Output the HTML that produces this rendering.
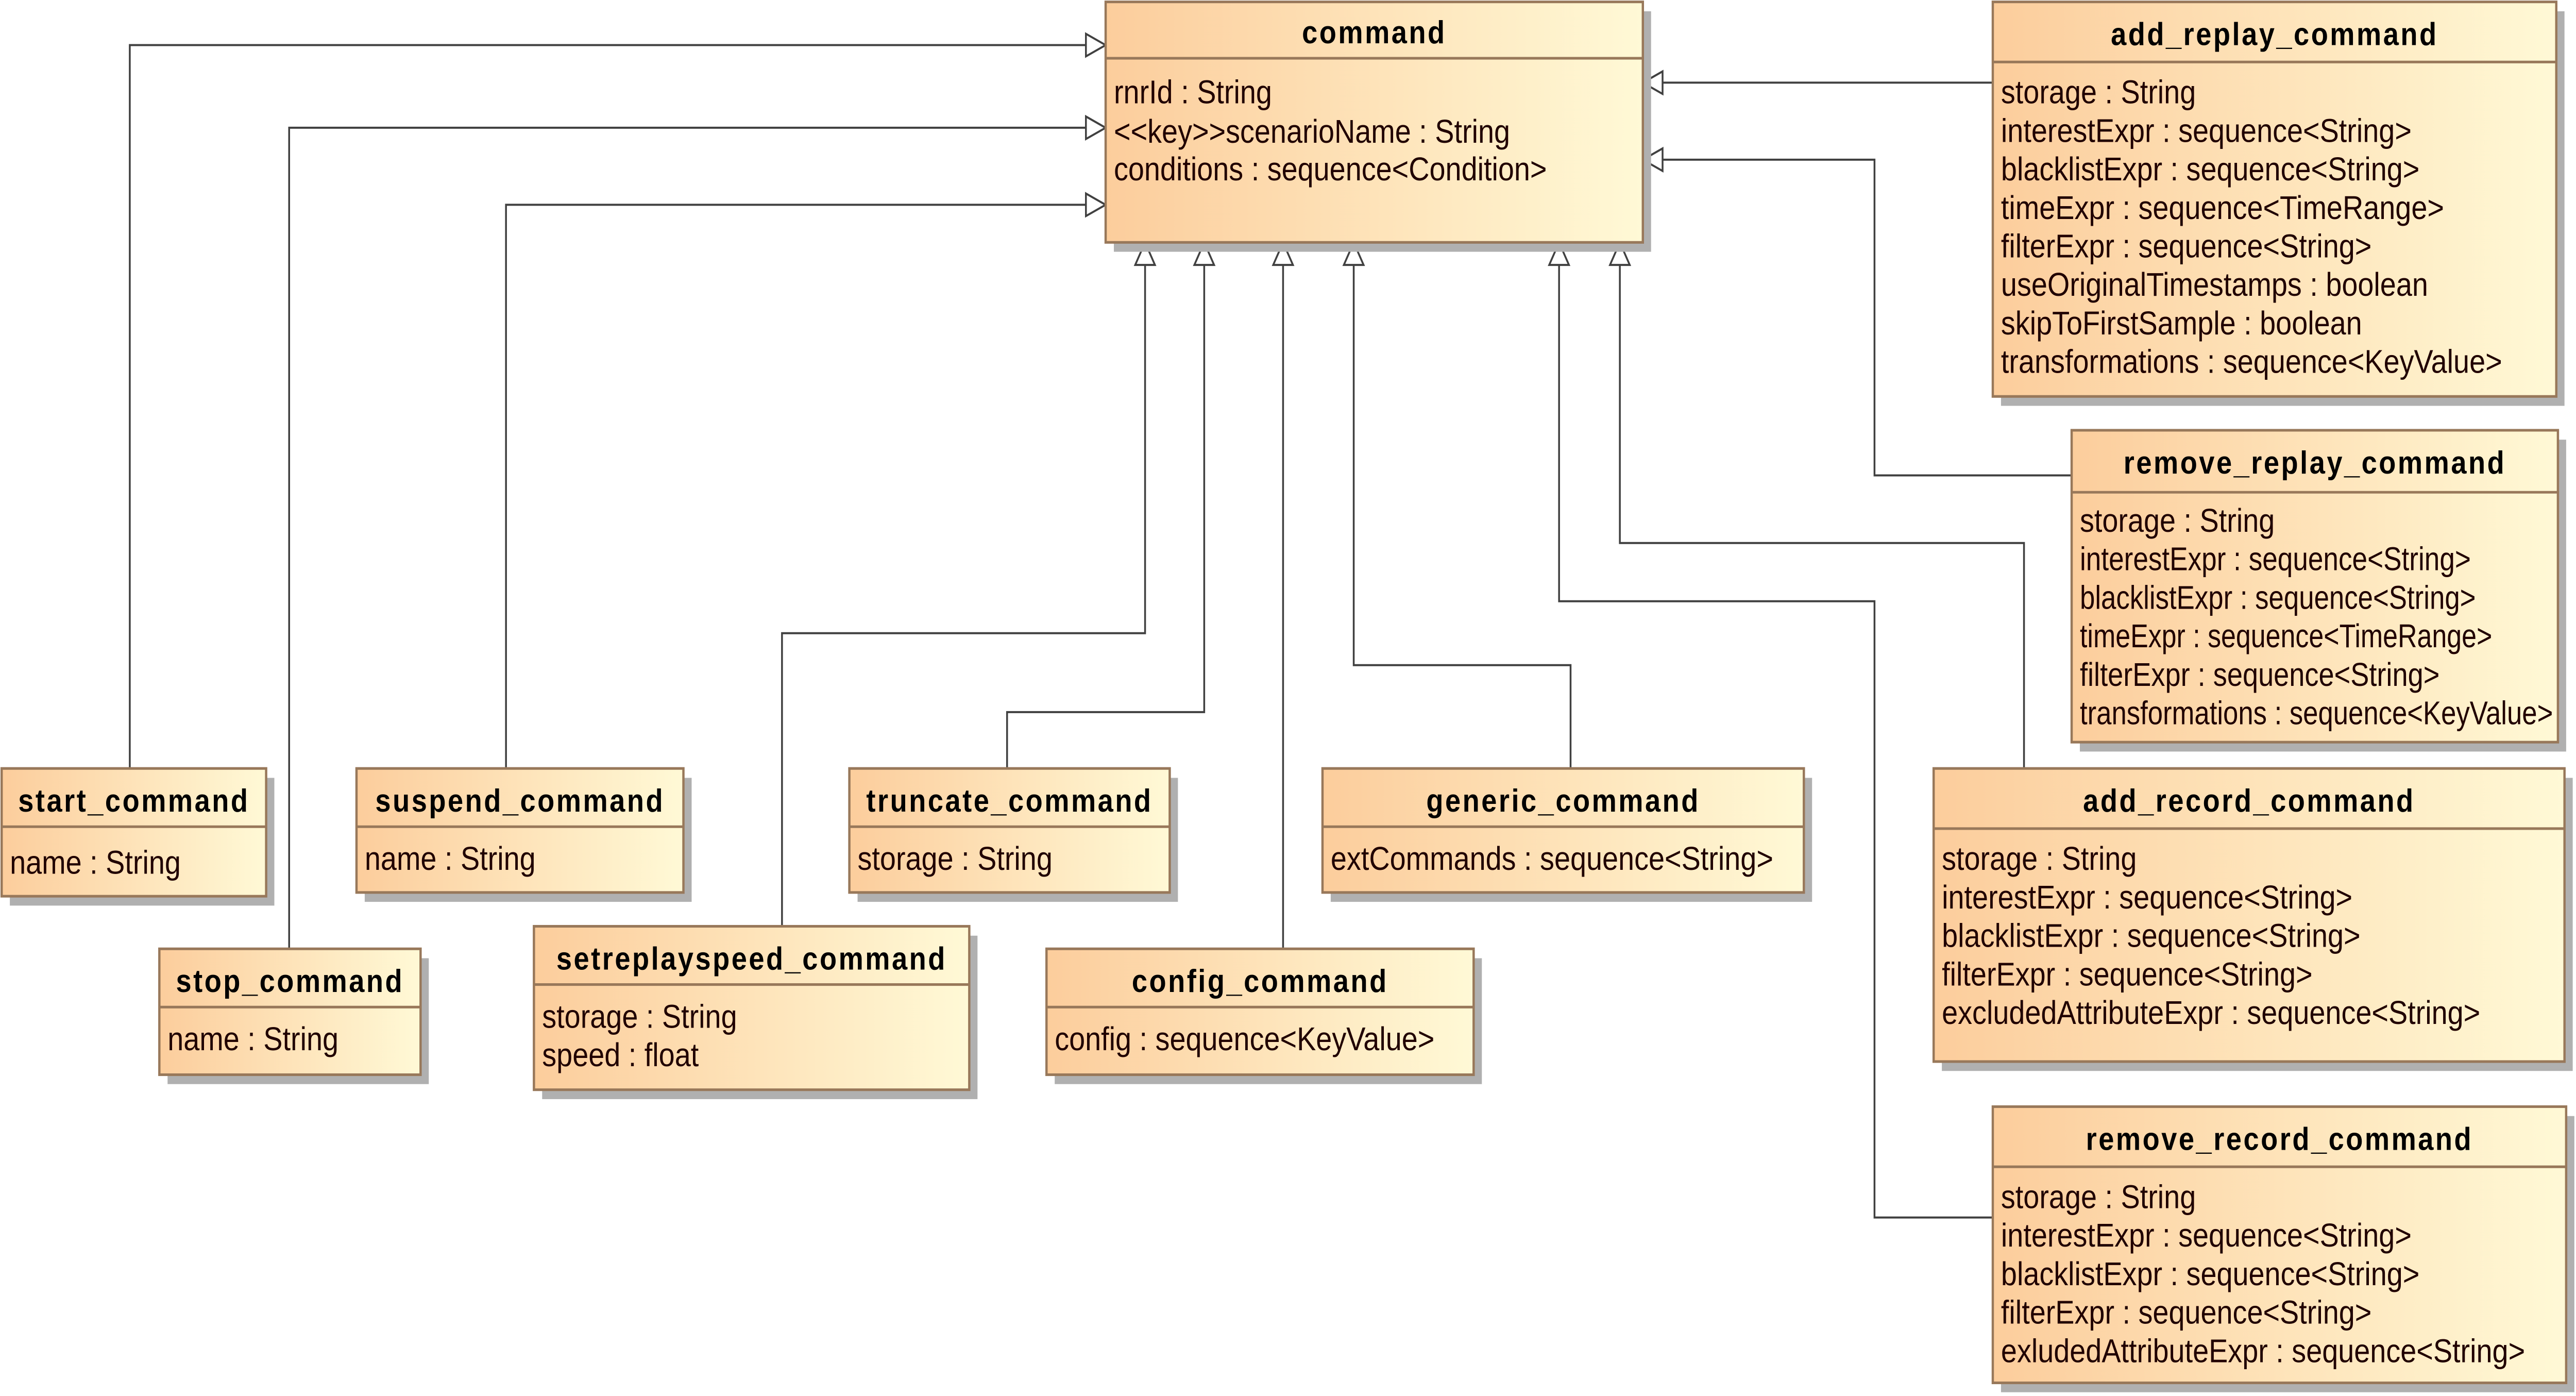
<!DOCTYPE html>
<html><head><meta charset="utf-8"><style>html,body{margin:0;padding:0;background:#fff;width:100%;height:100%;overflow:hidden;}svg{display:block;width:100vw;height:100vh;}</style></head>
<body>
<svg xmlns="http://www.w3.org/2000/svg" viewBox="0 0 1568 743" preserveAspectRatio="none">
<defs>
<linearGradient id="g" x1="0" y1="0" x2="1" y2="0">
<stop offset="0" stop-color="#fccd9c"/><stop offset="1" stop-color="#fff9d6"/>
</linearGradient>
</defs>
<style>
.b{fill:url(#g);stroke:#98785a;stroke-width:1.4}
.s{fill:#b0b0b0}
.d{stroke:#98785a;stroke-width:1.4}
.t{font-family:"Liberation Sans",sans-serif;font-weight:bold;font-size:17px;letter-spacing:1.1px;fill:#000;text-anchor:middle}
.a{font-family:"Liberation Sans",sans-serif;font-size:17.5px;fill:#200000}
.l{fill:none;stroke:#404040;stroke-width:1.1}
.h{fill:#fff;stroke:#404040;stroke-width:1.1}
</style>

<g>
<polyline class="l" points="79,409 79,24 661,24"/>
<polyline class="l" points="176,505 176,68 661,68"/>
<polyline class="l" points="308,409 308,109 661,109"/>
<polyline class="l" points="476,493 476,337 697,337 697,141"/>
<polyline class="l" points="613,409 613,379 733,379 733,141"/>
<polyline class="l" points="781,505 781,141"/>
<polyline class="l" points="956,409 956,354 824,354 824,141"/>
<polyline class="l" points="1232,409 1232,289 986,289 986,141"/>
<polyline class="l" points="1213,648 1141,648 1141,320 949,320 949,141"/>
<polyline class="l" points="1213,44 1012,44"/>
<polyline class="l" points="1261,253 1141,253 1141,85 1012,85"/>
<polygon class="h" points="673,24 661,18 661,30"/>
<polygon class="h" points="673,68 661,62 661,74"/>
<polygon class="h" points="673,109 661,103 661,115"/>
<polygon class="h" points="1000,44 1012,38 1012,50"/>
<polygon class="h" points="1000,85 1012,79 1012,91"/>
<polygon class="h" points="697,129 691,141 703,141"/>
<polygon class="h" points="733,129 727,141 739,141"/>
<polygon class="h" points="781,129 775,141 787,141"/>
<polygon class="h" points="824,129 818,141 830,141"/>
<polygon class="h" points="949,129 943,141 955,141"/>
<polygon class="h" points="986,129 980,141 992,141"/>
</g>

<rect class="s" x="678" y="6" width="327" height="128"/>
<rect class="b" x="673" y="1" width="327" height="128"/>
<line class="d" x1="673" y1="31" x2="1000" y2="31"/>
<text class="t" x="836.5" y="23">command</text>
<text class="a" x="678" y="55">rnrId : String</text>
<text class="a" x="678" y="76">&lt;&lt;key&gt;&gt;scenarioName : String</text>
<text class="a" x="678" y="96">conditions : sequence&lt;Condition&gt;</text>

<rect class="s" x="1218" y="6" width="343" height="210"/>
<rect class="b" x="1213" y="1" width="343" height="210"/>
<line class="d" x1="1213" y1="33" x2="1556" y2="33"/>
<text class="t" x="1384.5" y="24">add_replay_command</text>
<text class="a" x="1218" y="55">storage : String</text>
<text class="a" x="1218" y="75.5">interestExpr : sequence&lt;String&gt;</text>
<text class="a" x="1218" y="96">blacklistExpr : sequence&lt;String&gt;</text>
<text class="a" x="1218" y="116.5">timeExpr : sequence&lt;TimeRange&gt;</text>
<text class="a" x="1218" y="137">filterExpr : sequence&lt;String&gt;</text>
<text class="a" x="1218" y="157.5">useOriginalTimestamps : boolean</text>
<text class="a" x="1218" y="178">skipToFirstSample : boolean</text>
<text class="a" x="1218" y="198.5">transformations : sequence&lt;KeyValue&gt;</text>

<rect class="s" x="1266" y="234" width="296" height="166"/>
<rect class="b" x="1261" y="229" width="296" height="166"/>
<line class="d" x1="1261" y1="262" x2="1557" y2="262"/>
<text class="t" x="1409" y="252">remove_replay_command</text>
<text class="a" x="1266" y="283">storage : String</text>
<text class="a" x="1266" y="303.5" textLength="238" lengthAdjust="spacingAndGlyphs">interestExpr : sequence&lt;String&gt;</text>
<text class="a" x="1266" y="324" textLength="241" lengthAdjust="spacingAndGlyphs">blacklistExpr : sequence&lt;String&gt;</text>
<text class="a" x="1266" y="344.5" textLength="251" lengthAdjust="spacingAndGlyphs">timeExpr : sequence&lt;TimeRange&gt;</text>
<text class="a" x="1266" y="365" textLength="219" lengthAdjust="spacingAndGlyphs">filterExpr : sequence&lt;String&gt;</text>
<text class="a" x="1266" y="385.5" textLength="288" lengthAdjust="spacingAndGlyphs">transformations : sequence&lt;KeyValue&gt;</text>

<rect class="s" x="1182" y="414" width="384" height="156"/>
<rect class="b" x="1177" y="409" width="384" height="156"/>
<line class="d" x1="1177" y1="441" x2="1561" y2="441"/>
<text class="t" x="1369" y="432">add_record_command</text>
<text class="a" x="1182" y="463">storage : String</text>
<text class="a" x="1182" y="483.5">interestExpr : sequence&lt;String&gt;</text>
<text class="a" x="1182" y="504">blacklistExpr : sequence&lt;String&gt;</text>
<text class="a" x="1182" y="524.5">filterExpr : sequence&lt;String&gt;</text>
<text class="a" x="1182" y="545">excludedAttributeExpr : sequence&lt;String&gt;</text>

<rect class="s" x="1218" y="594" width="349" height="147"/>
<rect class="b" x="1213" y="589" width="349" height="147"/>
<line class="d" x1="1213" y1="621" x2="1562" y2="621"/>
<text class="t" x="1387.5" y="612">remove_record_command</text>
<text class="a" x="1218" y="643">storage : String</text>
<text class="a" x="1218" y="663.5">interestExpr : sequence&lt;String&gt;</text>
<text class="a" x="1218" y="684">blacklistExpr : sequence&lt;String&gt;</text>
<text class="a" x="1218" y="704.5">filterExpr : sequence&lt;String&gt;</text>
<text class="a" x="1218" y="725">exludedAttributeExpr : sequence&lt;String&gt;</text>

<rect class="s" x="6" y="414" width="161" height="68"/>
<rect class="b" x="1" y="409" width="161" height="68"/>
<line class="d" x1="1" y1="440" x2="162" y2="440"/>
<text class="t" x="81.5" y="432">start_command</text>
<text class="a" x="6" y="465">name : String</text>

<rect class="s" x="102" y="510" width="159" height="67"/>
<rect class="b" x="97" y="505" width="159" height="67"/>
<line class="d" x1="97" y1="536" x2="256" y2="536"/>
<text class="t" x="176.5" y="528">stop_command</text>
<text class="a" x="102" y="559">name : String</text>

<rect class="s" x="222" y="414" width="199" height="66"/>
<rect class="b" x="217" y="409" width="199" height="66"/>
<line class="d" x1="217" y1="440" x2="416" y2="440"/>
<text class="t" x="316.5" y="432">suspend_command</text>
<text class="a" x="222" y="463">name : String</text>

<rect class="s" x="330" y="498" width="265" height="87"/>
<rect class="b" x="325" y="493" width="265" height="87"/>
<line class="d" x1="325" y1="524" x2="590" y2="524"/>
<text class="t" x="457.5" y="516">setreplayspeed_command</text>
<text class="a" x="330" y="547">storage : String</text>
<text class="a" x="330" y="567.5">speed : float</text>

<rect class="s" x="522" y="414" width="195" height="66"/>
<rect class="b" x="517" y="409" width="195" height="66"/>
<line class="d" x1="517" y1="440" x2="712" y2="440"/>
<text class="t" x="614.5" y="432">truncate_command</text>
<text class="a" x="522" y="463">storage : String</text>

<rect class="s" x="642" y="510" width="260" height="67"/>
<rect class="b" x="637" y="505" width="260" height="67"/>
<line class="d" x1="637" y1="536" x2="897" y2="536"/>
<text class="t" x="767" y="528">config_command</text>
<text class="a" x="642" y="559">config : sequence&lt;KeyValue&gt;</text>

<rect class="s" x="810" y="414" width="293" height="66"/>
<rect class="b" x="805" y="409" width="293" height="66"/>
<line class="d" x1="805" y1="440" x2="1098" y2="440"/>
<text class="t" x="951.5" y="432">generic_command</text>
<text class="a" x="810" y="463">extCommands : sequence&lt;String&gt;</text>
</svg>
</body></html>
